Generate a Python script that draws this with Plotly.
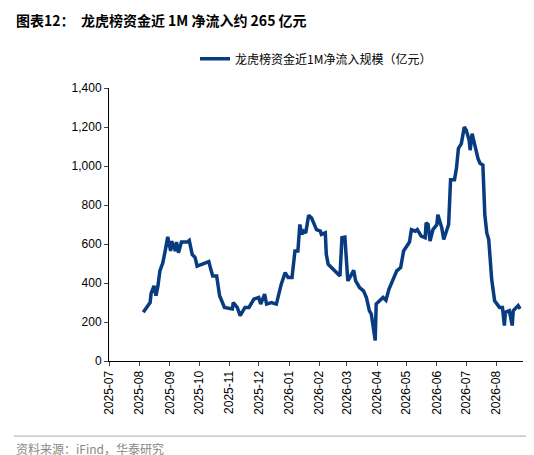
import plotly.graph_objects as go
import pandas as pd

start_date = "2025-08-01"
day_offsets = [4,11,12,15,17,19,21,24,27,29,32,33,37,38,40,43,49,51,54,57,59,69,71,73,75,79,82,87,95,96,100,103,108,112,117,122,124,128,130,135,140,145,149,152,156,159,162,164,166,168,170,173,176,181,185,186,190,191,193,205,207,210,213,215,219,221,225,229,232,235,237,241,242,249,252,255,259,263,267,270,276,278,282,284,288,292,293,295,297,300,304,305,309,311,316,318,322,324,326,329,332,334,337,338,340,343,344,346,348,351,353,355,357,360,363,366,368,371,373,374,378,381,382,387,389]
values = [250,300,346,385,335,385,462,504,580,637,564,615,564,610,555,610,610,618,547,530,487,504,510,470,436,436,335,275,267,300,275,233,275,275,317,326,292,343,292,300,292,394,453,428,428,564,564,700,649,666,657,747,733,674,666,649,657,547,496,436,632,635,411,428,465,411,377,360,326,258,241,105,292,326,312,368,419,462,479,564,610,674,666,674,640,632,708,700,615,674,700,750,683,623,700,929,929,988,1090,1115,1200,1183,1132,1081,1166,1098,1090,1039,1014,1005,750,657,623,419,309,292,275,275,182,250,258,182,258,284,267]
series_name = "龙虎榜资金近1M净流入规模（亿元）"
title_text = "图表12：  龙虎榜资金近 1M 净流入约 265 亿元"
source_text = "资料来源：iFind，华泰研究"

dates = pd.to_datetime(start_date) + pd.to_timedelta(day_offsets, unit="D")
tick_dates = pd.date_range("2025-07-01", "2026-08-01", freq="MS")

fig = go.Figure(go.Scatter(x=dates, y=values, mode="lines", name=series_name,
                           line=dict(color="#083b7f", width=3.5)))
font = "Noto Sans CJK SC"
fig.update_layout(
    width=534, height=455, paper_bgcolor="white", plot_bgcolor="white",
    margin=dict(l=101, r=19, t=80, b=102, autoexpand=False),
    font=dict(family=font, size=12, color="black"),
    showlegend=True,
    legend=dict(orientation="h", x=0.5, xanchor="center", y=1.16, yanchor="top",
                font=dict(size=12)),
    xaxis=dict(range=["2025-07-01", "2026-08-28"], tickvals=tick_dates,
               ticktext=[d.strftime("%Y-%m") for d in tick_dates], tickangle=-90,
               showline=True, linecolor="black", ticks="outside", ticklen=4,
               showgrid=False, zeroline=False, tickfont=dict(family="Liberation Sans", size=12)),
    yaxis=dict(range=[0, 1400], dtick=200, tickformat=",", showline=True,
               linecolor="black", ticks="outside", ticklen=4, showgrid=False,
               zeroline=False, tickfont=dict(family="Liberation Sans", size=12)),
)
fig.add_annotation(text="<b>"+title_text+"</b>", xref="paper", yref="paper", x=-0.23, y=1.25,
                   xanchor="left", yanchor="middle", showarrow=False, font=dict(size=14))
fig.add_annotation(text=source_text, xref="paper", yref="paper", x=-0.23, y=-0.32,
                   xanchor="left", yanchor="middle", showarrow=False, font=dict(size=12, color="#888888"))
fig.add_shape(type="line", xref="paper", yref="paper", x0=-0.23, x1=1.04, y0=-0.275, y1=-0.275,
              line=dict(color="#aaaaaa", width=1))
fig.write_html("out.html")
